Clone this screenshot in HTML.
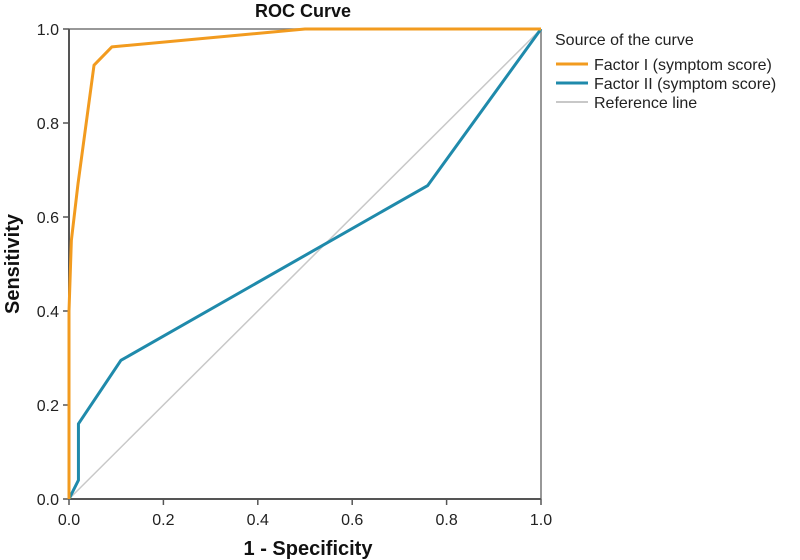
<!DOCTYPE html>
<html><head><meta charset="utf-8"><style>body{margin:0;background:#fff}svg{display:block;font-family:"Liberation Sans",Arial,sans-serif}</style></head>
<body>
<svg id="chart" width="800" height="560" viewBox="0 0 800 560"></svg>
<script>
const xTicks=[0,0.2,0.4,0.6,0.8,1.0];
const yTicks=[0,0.2,0.4,0.6,0.8,1.0];
const tickLabels=["0.0","0.2","0.4","0.6","0.8","1.0"];
const factor1X=[0,0,0.005,0.019,0.053,0.091,0.5,1];
const factor1Y=[0,0.40,0.55,0.67,0.923,0.962,1,1];
const factor2X=[0,0.02,0.02,0.11,0.76,1];
const factor2Y=[0,0.04,0.16,0.295,0.667,1];
const refX=[0,1];
const refY=[0,1];
const NS="http://www.w3.org/2000/svg";
const svg=document.getElementById('chart');
const X0=69,X1=541,Y0=499,Y1=29;
const sx=v=>X0+v*(X1-X0), sy=v=>Y0-v*(Y0-Y1);
function mk(t,a,txt){const e=document.createElementNS(NS,t);for(const k in a)e.setAttribute(k,a[k]);if(txt!=null)e.textContent=txt;svg.appendChild(e);return e;}
let e;
e=mk('line',{x1:X0,y1:Y1,x2:X1,y2:Y1,stroke:'#777','stroke-width':1.5});


e=mk('line',{x1:X1,y1:Y1,x2:X1,y2:Y0,stroke:'#777','stroke-width':1.5});


e=mk('line',{x1:X0,y1:Y0,x2:X1,y2:Y0,stroke:'#555','stroke-width':2});


e=mk('line',{x1:X0,y1:Y1,x2:X0,y2:Y0,stroke:'#555','stroke-width':2});


xTicks.forEach((v,i)=>{
  e=mk('line',{x1:sx(v),y1:Y0,x2:sx(v),y2:Y0+6,stroke:'#555','stroke-width':1.5});
  
  
  e=mk('text',{x:sx(v),y:Y0+26,'text-anchor':'middle','font-size':16,fill:'#222'},tickLabels[i]);
  
  
});
yTicks.forEach((v,i)=>{
  e=mk('line',{x1:X0-6,y1:sy(v),x2:X0,y2:sy(v),stroke:'#555','stroke-width':1.5});
  
  
  e=mk('text',{x:X0-10,y:sy(v)+6,'text-anchor':'end','font-size':16,fill:'#222'},tickLabels[i]);
  
  
});
function poly(xs,ys,col,w,name){
  const p=xs.map((x,i)=>sx(x)+','+sy(ys[i])).join(' ');
  const el=mk('polyline',{points:p,fill:'none',stroke:col,'stroke-width':w,'stroke-linejoin':'round'});
  
  
}
poly(refX,refY,'#c8c8c8',1.5,'reference-line');
poly(factor2X,factor2Y,'#1f8aab',3,'factor-2-curve');
poly(factor1X,factor1Y,'#f29b1f',3,'factor-1-curve');
e=mk('text',{x:303,y:17,'text-anchor':'middle','font-size':18,'font-weight':'bold',fill:'#111'},'ROC Curve');


e=mk('text',{x:308,y:555,'text-anchor':'middle','font-size':20,'font-weight':'bold',fill:'#111'},'1 - Specificity');


e=mk('text',{x:0,y:0,'text-anchor':'middle','font-size':20,'font-weight':'bold',fill:'#111',transform:'translate(19,264) rotate(-90)'},'Sensitivity');


e=mk('text',{x:555,y:45,'font-size':16,fill:'#222'},'Source of the curve');


const legNames=['Factor I (symptom score)','Factor II (symptom score)','Reference line'];
const legCols=['#f29b1f','#1f8aab','#c8c8c8'];
legNames.forEach((n,i)=>{
  const y=64+i*19;
  e=mk('line',{x1:556,y1:y,x2:588,y2:y,stroke:legCols[i],'stroke-width':i<2?3:2});
  
  
  e=mk('text',{x:594,y:y+6,'font-size':16,fill:'#222'},n);
  
  
});
</script>
</body></html>
